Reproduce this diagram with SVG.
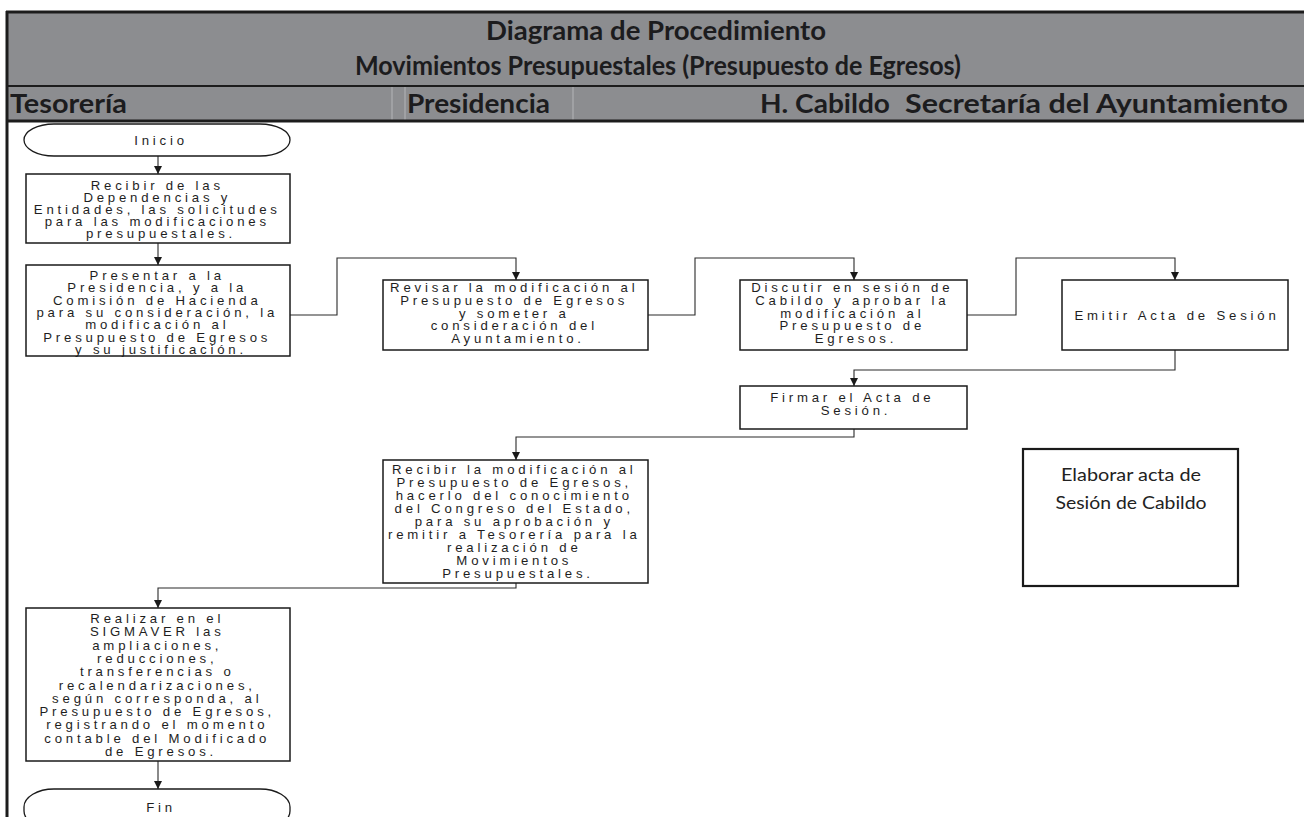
<svg xmlns="http://www.w3.org/2000/svg" width="1304" height="817" viewBox="0 0 1304 817">
  <style>
    .band { fill: #8c8d90; }
    .frame { stroke: #1c1c1c; fill: none; }
    .thin { stroke: #b4b5b8; stroke-width: 1; }
    .hdr { font-family: Lato, "Open Sans", sans-serif; font-weight: bold; font-size: 26px; fill: #1c1c1e; }
    .box { fill: #ffffff; stroke: #1a1a1a; stroke-width: 1.5; }
    .term { fill: #ffffff; stroke: #1a1a1a; stroke-width: 1.3; }
    .t { font-family: "Liberation Sans", Arial, sans-serif; font-size: 13.2px; letter-spacing: 3.8px; fill: #1e1e1e; text-anchor: middle; }
    .note { fill: #ffffff; stroke: #1a1a1a; stroke-width: 2.2; }
    .nt { font-family: Lato, "Open Sans", sans-serif; font-size: 18px; fill: #222; text-anchor: middle; }
    .c { fill: none; stroke: #2a2a2a; stroke-width: 1.1; marker-end: url(#ah); }
  </style>
  <defs>
    <marker id="ah" viewBox="0 0 10 10" refX="10" refY="5" markerWidth="10" markerHeight="8" markerUnits="userSpaceOnUse" orient="auto">
      <path d="M0,0 L10,5 L0,10 z" fill="#1a1a1a"/>
    </marker>
  </defs>

  <!-- title band and lane headers -->
  <g id="header">
    <rect class="band" x="6" y="12" width="1298" height="109"/>
    <line class="thin" x1="392" y1="87" x2="392" y2="120"/>
    <line class="thin" x1="405" y1="87" x2="405" y2="120"/>
    <line class="thin" x1="573" y1="87" x2="573" y2="120"/>
    <line class="frame" x1="6" y1="12" x2="1304" y2="12" stroke-width="3"/>
    <line class="frame" x1="6" y1="86" x2="1304" y2="86" stroke-width="2"/>
    <line class="frame" x1="6" y1="121" x2="1304" y2="121" stroke-width="3"/>
    <line class="frame" x1="7" y1="11" x2="7" y2="817" stroke-width="3"/>
    <text class="hdr" x="656" y="40" text-anchor="middle" textLength="340" lengthAdjust="spacingAndGlyphs">Diagrama de Procedimiento</text>
    <text class="hdr" x="658" y="75" text-anchor="middle" textLength="606" lengthAdjust="spacingAndGlyphs">Movimientos Presupuestales (Presupuesto de Egresos)</text>
    <text class="hdr" x="10" y="113" textLength="117" lengthAdjust="spacingAndGlyphs">Tesorería</text>
    <text class="hdr" x="407" y="113" textLength="143" lengthAdjust="spacingAndGlyphs">Presidencia</text>
    <text class="hdr" x="760" y="113" textLength="130" lengthAdjust="spacingAndGlyphs">H. Cabildo</text>
    <text class="hdr" x="905" y="113" textLength="383" lengthAdjust="spacingAndGlyphs">Secretaría del Ayuntamiento</text>
  </g>

  <!-- connectors -->
  <g id="connectors">
    <path class="c" d="M158,156 V174"/>
    <path class="c" d="M158,243 V265"/>
    <path class="c" d="M290,315 H337 V258 H516 V280"/>
    <path class="c" d="M648,315 H695 V258 H854 V280"/>
    <path class="c" d="M967,315 H1016 V258 H1175 V280"/>
    <path class="c" d="M1175,350 V370 H854 V386"/>
    <path class="c" d="M854,429 V437 H516 V460"/>
    <path class="c" d="M516,583 V588 H158 V608"/>
    <path class="c" d="M158,761 V789"/>
  </g>

  <g id="inicio">
    <rect class="term" x="24" y="124" width="266" height="32" rx="30" ry="16"/>
    <text class="t" x="161" y="145">Inicio</text>
  </g>

  <g id="recibir-solicitudes">
    <rect class="box" x="26" y="174" width="264" height="69"/>
    <text class="t" y="189.5">
      <tspan x="161">Recibir de las</tspan>
      <tspan x="161" dy="12">Dependencias y</tspan>
      <tspan x="161" dy="12">Entidades, las solicitudes</tspan>
      <tspan x="161" dy="12">para las modificaciones</tspan>
      <tspan x="161" dy="12">presupuestales.</tspan>
    </text>
  </g>

  <g id="presentar">
    <rect class="box" x="26" y="265" width="264" height="91"/>
    <text class="t" y="280">
      <tspan x="161">Presentar a la</tspan>
      <tspan x="161" dy="12.3">Presidencia, y a la</tspan>
      <tspan x="161" dy="12.3">Comisión de Hacienda</tspan>
      <tspan x="161" dy="12.3">para su consideración, la</tspan>
      <tspan x="161" dy="12.3">modificación al</tspan>
      <tspan x="161" dy="12.3">Presupuesto de Egresos</tspan>
      <tspan x="161" dy="12.3">y su justificación.</tspan>
    </text>
  </g>

  <g id="revisar">
    <rect class="box" x="383" y="280" width="265" height="70"/>
    <text class="t" y="292">
      <tspan x="518">Revisar la modificación al</tspan>
      <tspan x="518" dy="12.8">Presupuesto de Egresos</tspan>
      <tspan x="518" dy="12.8">y someter a</tspan>
      <tspan x="518" dy="12.8">consideración del</tspan>
      <tspan x="518" dy="12.8">Ayuntamiento.</tspan>
    </text>
  </g>

  <g id="discutir">
    <rect class="box" x="740" y="280" width="227" height="70"/>
    <text class="t" y="292">
      <tspan x="856">Discutir en sesión de</tspan>
      <tspan x="856" dy="12.8">Cabildo y aprobar la</tspan>
      <tspan x="856" dy="12.8">modificación al</tspan>
      <tspan x="856" dy="12.8">Presupuesto de</tspan>
      <tspan x="856" dy="12.8">Egresos.</tspan>
    </text>
  </g>

  <g id="emitir">
    <rect class="box" x="1062" y="280" width="226" height="70"/>
    <text class="t" x="1177" y="320">Emitir Acta de Sesión</text>
  </g>

  <g id="firmar">
    <rect class="box" x="740" y="386" width="227" height="43"/>
    <text class="t" y="402">
      <tspan x="856">Firmar el Acta de</tspan>
      <tspan x="856" dy="13">Sesión.</tspan>
    </text>
  </g>

  <g id="recibir-modificacion">
    <rect class="box" x="383" y="460" width="265" height="123"/>
    <text class="t" y="474">
      <tspan x="518">Recibir la modificación al</tspan>
      <tspan x="518" dy="13">Presupuesto de Egresos,</tspan>
      <tspan x="518" dy="13">hacerlo del conocimiento</tspan>
      <tspan x="518" dy="13">del Congreso del Estado,</tspan>
      <tspan x="518" dy="13">para su aprobación y</tspan>
      <tspan x="518" dy="13">remitir a Tesorería para la</tspan>
      <tspan x="518" dy="13">realización de</tspan>
      <tspan x="518" dy="13">Movimientos</tspan>
      <tspan x="518" dy="13">Presupuestales.</tspan>
    </text>
  </g>

  <g id="realizar">
    <rect class="box" x="26" y="608" width="264" height="153"/>
    <text class="t" y="623">
      <tspan x="161">Realizar en el</tspan>
      <tspan x="161" dy="13.3">SIGMAVER las</tspan>
      <tspan x="161" dy="13.3">ampliaciones,</tspan>
      <tspan x="161" dy="13.3">reducciones,</tspan>
      <tspan x="161" dy="13.3">transferencias o</tspan>
      <tspan x="161" dy="13.3">recalendarizaciones,</tspan>
      <tspan x="161" dy="13.3">según corresponda, al</tspan>
      <tspan x="161" dy="13.3">Presupuesto de Egresos,</tspan>
      <tspan x="161" dy="13.3">registrando el momento</tspan>
      <tspan x="161" dy="13.3">contable del Modificado</tspan>
      <tspan x="161" dy="13.3">de Egresos.</tspan>
    </text>
  </g>

  <g id="fin">
    <rect class="term" x="24" y="789" width="266" height="40" rx="30" ry="18"/>
    <text class="t" x="161" y="812">Fin</text>
  </g>

  <g id="elaborar-acta">
    <rect class="note" x="1023" y="449" width="215" height="137"/>
    <text class="nt" x="1131" y="481" textLength="140" lengthAdjust="spacingAndGlyphs">Elaborar acta de</text>
    <text class="nt" x="1131" y="509" textLength="151" lengthAdjust="spacingAndGlyphs">Sesión de Cabildo</text>
  </g>
</svg>
